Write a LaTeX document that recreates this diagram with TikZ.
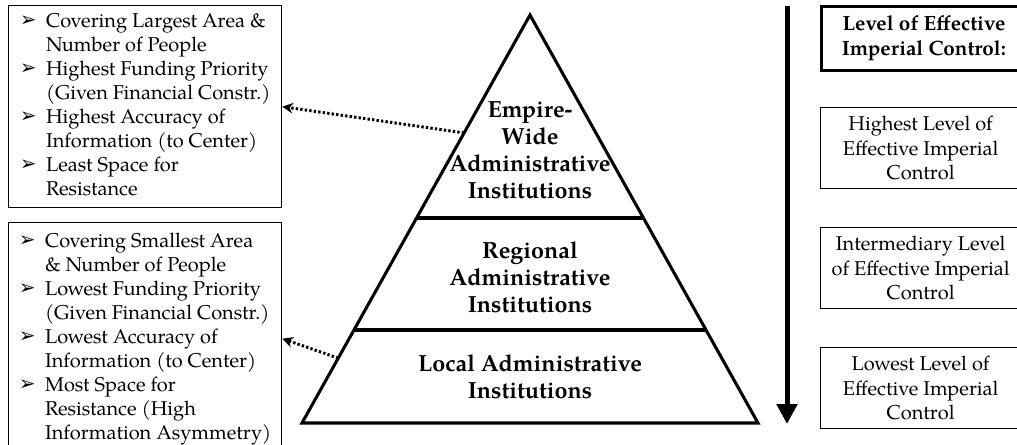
\documentclass[tikz,border=0pt]{standalone}
\usepackage{fontspec}
\setmainfont{texgyrepagella}[Extension=.otf,UprightFont=*-regular,BoldFont=*-bold,ItalicFont=*-italic,BoldItalicFont=*-bolditalic]
\newfontfamily\dingfont{DejaVu Sans}
\usetikzlibrary{arrows.meta,calc,positioning}

\newcommand\bul{\raisebox{0.5pt}{\dingfont\fontsize{15}{15}\selectfont ➢}}

\tikzset{
  listbox/.style={draw,line width=1pt,minimum width=204.75pt,anchor=north west,inner sep=0pt,
    font=\fontsize{15}{18}\selectfont},
  levelbox/.style={draw,line width=1pt,minimum width=150pt,minimum height=60.75pt,anchor=north west,
    inner sep=0pt,align=center,font=\fontsize{15}{18.5}\selectfont},
  headbox/.style={levelbox,line width=2.2pt,minimum width=153.75pt,minimum height=48pt,
    font=\bfseries\fontsize{15.5}{19}\selectfont},
  tier/.style={align=center,inner sep=0pt,font=\bfseries\fontsize{17.5}{20.3}\selectfont},
  dotarrow/.style={line width=2.2pt,dash pattern=on 1.8pt off 1.6pt,-{Stealth[length=8pt,width=8pt]}},
}

\begin{document}
\begin{tikzpicture}[x=0.75pt,y=-0.75pt]
  \clip (0,0) rectangle (1017,444);

  % pyramid
  \coordinate (apex) at (530,15);
  \coordinate (bl) at (302,423);
  \coordinate (br) at (758,423);
  \draw[line width=2.3pt,line join=miter] (apex) -- (bl) -- (br) -- cycle;
  \draw[line width=2.3pt] ($(apex)!0.4975!(bl)$) -- ($(apex)!0.4975!(br)$);
  \draw[line width=2.3pt] ($(apex)!0.772!(bl)$) -- ($(apex)!0.772!(br)$);

  \node[tier] (empire) at (530,150) {Empire-\\Wide\\Administrative\\Institutions};
  \node[tier] (regional) at (530,277) {Regional\\Administrative\\Institutions};
  \node[tier] (local) at (530,377) {Local Administrative\\Institutions};

  % lists on the left
  \node[listbox,minimum height=151.5pt] (toplist) at (8,5) {%
    \begin{tabular}{@{}l@{\hspace{7pt}}l@{}}
      \bul & Covering Largest Area \& \\
           & Number of People \\
      \bul & Highest Funding Priority \\
           & (Given Financial Constr.) \\
      \bul & Highest Accuracy of \\
           & Information (to Center) \\
      \bul & Least Space for \\
           & Resistance
    \end{tabular}};
  \node[listbox,minimum height=174pt] (botlist) at (8,222) {%
    \begin{tabular}{@{}l@{\hspace{7pt}}l@{}}
      \bul & Covering Smallest Area \\
           & \& Number of People \\
      \bul & Lowest Funding Priority \\
           & (Given Financial Constr.) \\
      \bul & Lowest Accuracy of \\
           & Information (to Center) \\
      \bul & Most Space for \\
           & Resistance (High \\
           & Information Asymmetry)
    \end{tabular}};

  \coordinate (e1) at ($(apex)!0.289!(bl)$);
  \coordinate (e2) at ($(apex)!0.841!(bl)$);
  \draw[dotarrow] (e1) -- (toplist.east);
  \draw[dotarrow] (e2) -- (botlist.east);

  % control levels on the right
  \coordinate (ctop) at (787,6);
  \coordinate (cbot) at (787,424);
  \draw[line width=3.75pt,-{Triangle[length=15pt,width=15pt]}] (ctop) -- (cbot);

  \node[headbox] (head) at (820,5) {Level of Effective\\Imperial Control:};
  \node[levelbox] (high) at (820,107) {Highest Level of\\Effective Imperial\\Control};
  \node[levelbox] (mid) at (820,227) {Intermediary Level\\of Effective Imperial\\Control};
  \node[levelbox] (low) at (820,347) {Lowest Level of\\Effective Imperial\\Control};
\end{tikzpicture}
\end{document}
